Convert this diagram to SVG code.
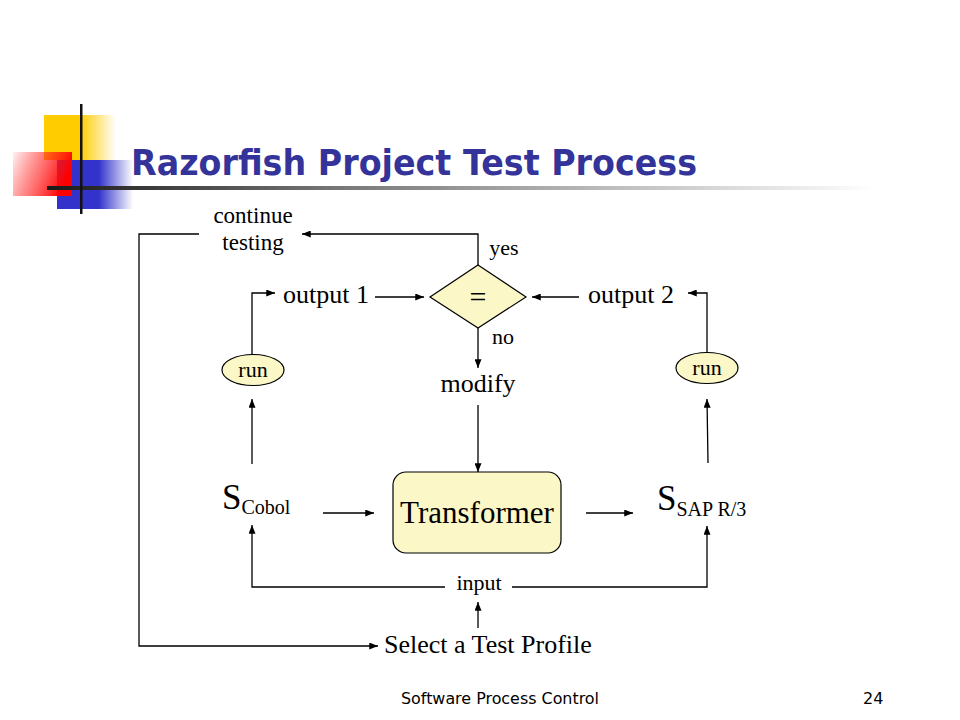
<svg xmlns="http://www.w3.org/2000/svg" width="960" height="720" viewBox="0 0 960 720">
<defs>
<linearGradient id="gy" x1="0" y1="0" x2="1" y2="0"><stop offset="0" stop-color="#FFCC00"/><stop offset="0.5" stop-color="#FFCC00"/><stop offset="1" stop-color="#FFCC00" stop-opacity="0"/></linearGradient>
<linearGradient id="gb" x1="0" y1="0" x2="1" y2="0"><stop offset="0" stop-color="#3333CC"/><stop offset="0.55" stop-color="#3333CC"/><stop offset="1" stop-color="#3333CC" stop-opacity="0"/></linearGradient>
<linearGradient id="gr" x1="0" y1="0" x2="1" y2="0.3"><stop offset="0" stop-color="#FF0000" stop-opacity="0.05"/><stop offset="0.55" stop-color="#FF2222" stop-opacity="0.65"/><stop offset="1" stop-color="#FF0000"/></linearGradient>
<linearGradient id="gl" x1="0" y1="0" x2="1" y2="0"><stop offset="0" stop-color="#1a1a1a"/><stop offset="0.35" stop-color="#777777"/><stop offset="1" stop-color="#ffffff"/></linearGradient>
<marker id="ah" viewBox="0 0 10 8" refX="10" refY="4" markerWidth="9" markerHeight="7" markerUnits="userSpaceOnUse" orient="auto"><path d="M0,0 L10,4 L0,8 z" fill="#000"/></marker>
<style>
.t{font-family:"Liberation Serif","Times New Roman",serif;fill:#000}
.c{stroke:#000;stroke-width:1.3;fill:none;marker-end:url(#ah)}
.fill{fill:#FCF7C6;stroke:#000;stroke-width:1.2}
.ft{font-family:Tahoma,"DejaVu Sans",sans-serif;font-size:16px;fill:#000}
</style>
</defs>
<rect width="960" height="720" fill="#fff"/>
<g id="decoration">
<rect x="44" y="115" width="72" height="45" fill="url(#gy)"/>
<rect x="57" y="160" width="76" height="49" fill="url(#gb)"/>
<rect x="13" y="152" width="59" height="44" fill="url(#gr)"/>
<rect x="47" y="186" width="830" height="4" fill="url(#gl)"/>
<rect x="80" y="104" width="2.5" height="110" fill="#111"/>
</g>
<text id="title" x="131" y="175" font-family="Tahoma,'DejaVu Sans','Liberation Sans',sans-serif" font-weight="bold" font-size="36" fill="#333399" textLength="566" lengthAdjust="spacingAndGlyphs">Razorfish Project Test Process</text>
<g id="connectors">
<path class="c" d="M478,265 V234 H302"/>
<path class="c" d="M199,234 H139 V646 H378"/>
<path class="c" d="M478,628 V602"/>
<path class="c" d="M445,587 H252 V525"/>
<path class="c" d="M512,587 H707 V526"/>
<path class="c" d="M323,513 H374"/>
<path class="c" d="M586,513 H633"/>
<path class="c" d="M478,405 V472"/>
<path class="c" d="M478,328 V368"/>
<path class="c" d="M252,464 V399"/>
<path class="c" d="M252,355 V293 H275"/>
<path class="c" d="M375,297 H424"/>
<path class="c" d="M579,297 H532"/>
<path class="c" d="M707,353 V293 H688"/>
<path class="c" d="M708,463 L707,399"/>
</g>
<g id="continue"><text class="t" x="253" y="223" font-size="23" text-anchor="middle">continue</text><text class="t" x="253" y="250" font-size="23" text-anchor="middle">testing</text></g>
<g id="yes"><text class="t" x="504" y="255" font-size="22" text-anchor="middle">yes</text></g>
<g id="no"><text class="t" x="503" y="344" font-size="22" text-anchor="middle">no</text></g>
<g id="diamond"><polygon class="fill" points="478,265 526,297 478,328 430,297"/><text class="t" x="478" y="307" font-size="30" text-anchor="middle">=</text></g>
<g id="output1"><text class="t" x="283" y="303" font-size="26">output 1</text></g>
<g id="output2"><text class="t" x="588" y="303" font-size="26">output 2</text></g>
<g id="run1"><ellipse class="fill" cx="253" cy="370" rx="31" ry="15.5"/><text class="t" x="253" y="377" font-size="22" text-anchor="middle">run</text></g>
<g id="run2"><ellipse class="fill" cx="707" cy="368" rx="31" ry="15.5"/><text class="t" x="707" y="375" font-size="22" text-anchor="middle">run</text></g>
<g id="modify"><text class="t" x="478" y="392" font-size="26" text-anchor="middle">modify</text></g>
<g id="transformer"><rect class="fill" x="393" y="472" width="168" height="81" rx="13"/><text class="t" x="477" y="523" font-size="31" text-anchor="middle">Transformer</text></g>
<g id="scobol"><text class="t" x="222" y="509" font-size="35">S<tspan font-size="20" dy="5">Cobol</tspan></text></g>
<g id="ssap"><text class="t" x="657" y="510" font-size="35">S<tspan font-size="20" dy="6">SAP R/3</tspan></text></g>
<g id="input"><text class="t" x="479" y="590" font-size="22" text-anchor="middle">input</text></g>
<g id="select"><text class="t" x="384" y="653" font-size="26">Select a Test Profile</text></g>
<g id="footer"><text class="ft" x="401" y="704" textLength="198" lengthAdjust="spacingAndGlyphs">Software Process Control</text><text class="ft" x="863" y="704">24</text></g>
</svg>
